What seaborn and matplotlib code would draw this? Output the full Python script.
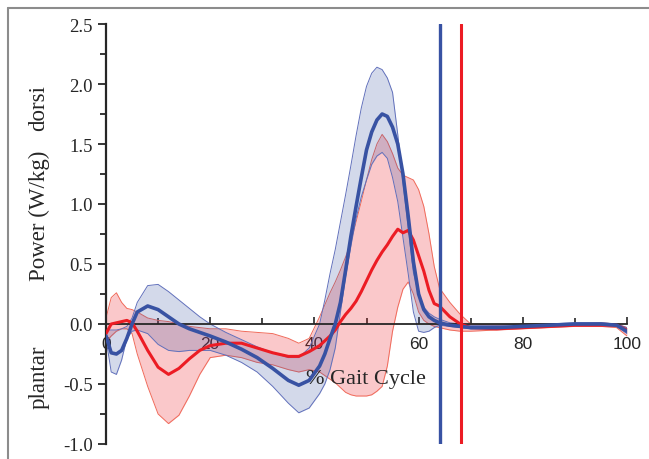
import numpy as np
import pandas as pd
import matplotlib
matplotlib.use('Agg')
import matplotlib.pyplot as plt
from matplotlib.lines import Line2D
from matplotlib.ticker import MultipleLocator
import seaborn as sns

# % gait cycle sample points
gait = [0, 1, 2, 3, 4, 5, 6, 8, 10, 12, 14, 16, 18, 20, 23, 26, 29, 32, 35, 37, 39,
        41, 42, 43, 44, 45, 46, 47, 48, 49, 50, 51, 52, 53, 54, 55, 56, 57, 58, 59,
        60, 61, 62, 63, 64, 66, 68, 70, 75, 80, 85, 90, 95, 98, 100]

# blue group: mean, upper and lower band
blue_mean = [-0.10, -0.24, -0.25, -0.22, -0.12, 0.00, 0.10, 0.15, 0.12, 0.06, 0.00, -0.04,
             -0.07, -0.10, -0.15, -0.21, -0.28, -0.37, -0.47, -0.51, -0.47,
             -0.35, -0.25, -0.12, 0.00, 0.18, 0.45, 0.73, 0.98, 1.22, 1.45, 1.60, 1.70,
             1.75, 1.73, 1.64, 1.50, 1.25, 0.90, 0.52,
             0.25, 0.12, 0.06, 0.03, 0.01, -0.01, -0.02, -0.03, -0.03, -0.02, -0.01,
             0.00, 0.00, -0.01, -0.06]
blue_upper = [-0.05, -0.05, -0.05, -0.04, -0.02, 0.05, 0.18, 0.32, 0.33, 0.27, 0.20, 0.13,
              0.06, 0.00, -0.07, -0.13, -0.19, -0.24, -0.28, -0.28, -0.20,
              0.00, 0.20, 0.42, 0.62, 0.85, 1.08, 1.32, 1.57, 1.80, 1.98, 2.09, 2.14,
              2.12, 2.05, 1.93, 1.58, 1.18, 0.80, 0.43,
              0.25, 0.14, 0.09, 0.06, 0.04, 0.01, 0.00, -0.01, -0.01, 0.00, 0.00,
              0.01, 0.01, 0.00, -0.03]
blue_lower = [-0.12, -0.40, -0.42, -0.30, -0.12, -0.06, -0.05, -0.08, -0.17, -0.22, -0.23,
              -0.22, -0.22, -0.22, -0.26, -0.32, -0.40, -0.52, -0.66, -0.74, -0.70,
              -0.58, -0.50, -0.38, -0.20, 0.10, 0.40, 0.65, 0.88, 1.06, 1.20, 1.33, 1.40,
              1.43, 1.38, 1.22, 1.02, 0.72, 0.42, 0.10,
              -0.06, -0.07, -0.06, -0.03, -0.01, -0.02, -0.03, -0.04, -0.04, -0.03,
              -0.02, -0.01, -0.01, -0.02, -0.08]

# red group: mean, upper and lower band
red_mean = [-0.08, 0.00, 0.01, 0.02, 0.03, 0.01, -0.06, -0.22, -0.36, -0.42, -0.37, -0.29,
            -0.22, -0.18, -0.16, -0.16, -0.20, -0.24, -0.27, -0.27, -0.23,
            -0.18, -0.14, -0.10, -0.05, 0.02, 0.08, 0.13, 0.19, 0.27, 0.36, 0.45, 0.53,
            0.60, 0.66, 0.73, 0.79, 0.76, 0.78, 0.70,
            0.57, 0.44, 0.28, 0.17, 0.15, 0.06, 0.00, -0.03, -0.04, -0.03, -0.02,
            -0.01, -0.01, -0.01, -0.05]
red_upper = [0.05, 0.22, 0.26, 0.18, 0.13, 0.12, 0.10, 0.05, 0.03, 0.02, 0.00, -0.02,
             -0.03, -0.04, -0.04, -0.06, -0.07, -0.08, -0.12, -0.16, -0.12,
             0.06, 0.16, 0.26, 0.35, 0.45, 0.56, 0.68, 0.85, 1.02, 1.20, 1.37, 1.50,
             1.58, 1.52, 1.42, 1.30, 1.24, 1.22, 1.20,
             1.12, 0.98, 0.75, 0.48, 0.30, 0.18, 0.08, 0.00, -0.01, 0.00, 0.00,
             0.00, 0.01, 0.00, -0.03]
red_lower = [-0.15, -0.10, -0.06, -0.04, -0.04, -0.08, -0.25, -0.52, -0.75, -0.83, -0.76,
             -0.60, -0.42, -0.28, -0.26, -0.28, -0.32, -0.34, -0.38, -0.40, -0.38,
             -0.40, -0.43, -0.46, -0.49, -0.53, -0.57, -0.59, -0.60, -0.60, -0.60, -0.59,
             -0.56, -0.52, -0.35, -0.06, 0.14, 0.29, 0.35, 0.25,
             0.10, 0.03, 0.00, -0.02, -0.03, -0.05, -0.06, -0.06, -0.05, -0.04, -0.03,
             -0.02, -0.02, -0.03, -0.10]

# toe-off events (% gait cycle)
blue_toe_off = 64.1
red_toe_off = 68.1

BLUE = '#3852a3'
RED = '#ec1c24'

df = pd.DataFrame({'gait': gait, 'blue': blue_mean, 'red': red_mean})

sns.set_style('ticks')
plt.rcParams['font.family'] = ['Liberation Serif', 'DejaVu Serif']

fig = plt.figure(figsize=(6.49, 4.6), dpi=100)
ax = fig.add_axes([106 / 649, 1 - 445 / 460, 521 / 649, 420 / 460])

ax.fill_between(gait, red_lower, red_upper, color=RED, alpha=0.24, lw=0, zorder=1)
ax.plot(gait, red_upper, color='#f06a5a', lw=0.7, zorder=1.1)
ax.plot(gait, red_lower, color='#f06a5a', lw=0.7, zorder=1.1)
ax.fill_between(gait, blue_lower, blue_upper, color=BLUE, alpha=0.22, lw=0, zorder=1.2)
ax.plot(gait, blue_upper, color='#6170bb', lw=0.7, zorder=1.3)
ax.plot(gait, blue_lower, color='#6170bb', lw=0.7, zorder=1.3)

sns.lineplot(data=df, x='gait', y='red', color=RED, lw=2.2, ax=ax, zorder=3)
sns.lineplot(data=df, x='gait', y='blue', color=BLUE, lw=2.6, ax=ax, zorder=3.2)

ax.axvline(blue_toe_off, color=BLUE, lw=2.4, zorder=4)
ax.axvline(red_toe_off, color=RED, lw=2.2, zorder=4)

ax.set_xlim(0, 100)
ax.set_ylim(-1.0, 2.5)
ax.set_xlabel('')
ax.set_ylabel('')

ax.spines['top'].set_visible(False)
ax.spines['right'].set_visible(False)
ax.spines['bottom'].set_position(('data', 0))
ax.spines['bottom'].set_linewidth(1.3)
ax.spines['left'].set_linewidth(1.6)

ax.xaxis.set_major_locator(MultipleLocator(20))
ax.xaxis.set_minor_locator(MultipleLocator(10))
ax.yaxis.set_major_locator(MultipleLocator(0.5))
ax.yaxis.set_minor_locator(MultipleLocator(0.25))
ax.set_yticks(np.arange(-1.0, 2.51, 0.5))
ax.set_yticklabels([f'{v:.1f}' for v in np.arange(-1.0, 2.51, 0.5)])
ax.set_xticks(np.arange(0, 101, 20))
ax.set_xticklabels([str(v) for v in range(0, 101, 20)],
                   fontfamily='Liberation Sans', fontsize=12.5)

ax.tick_params(axis='x', which='both', direction='in', width=1.2, pad=9)
ax.tick_params(axis='x', which='major', length=5)
ax.tick_params(axis='x', which='minor', length=4)
ax.tick_params(axis='y', which='both', direction='out', width=1.3, labelsize=13.5)
ax.tick_params(axis='y', which='major', length=6)
ax.tick_params(axis='y', which='minor', length=4)

ax.text(0.499, 0.155, '% Gait Cycle', transform=ax.transAxes, ha='center',
        va='center', fontsize=16)

fig.text(39 / 649, 1 - 216 / 460, 'Power (W/kg)', rotation=90, ha='center',
         va='center', fontsize=16.5)
fig.text(39 / 649, 1 - 108 / 460, 'dorsi', rotation=90, ha='center',
         va='center', fontsize=16.5)
fig.text(39 / 649, 1 - 377 / 460, 'plantar', rotation=90, ha='center',
         va='center', fontsize=16.5)

# outer frame lines (top and left)
fig.add_artist(Line2D([8 / 649, 1], [1 - 9 / 460, 1 - 9 / 460],
                      transform=fig.transFigure, color='#8c8c8c', lw=1.5))
fig.add_artist(Line2D([8 / 649, 8 / 649], [0, 1 - 9 / 460],
                      transform=fig.transFigure, color='#8c8c8c', lw=1.5))

fig.savefig('out.png', dpi=100)
